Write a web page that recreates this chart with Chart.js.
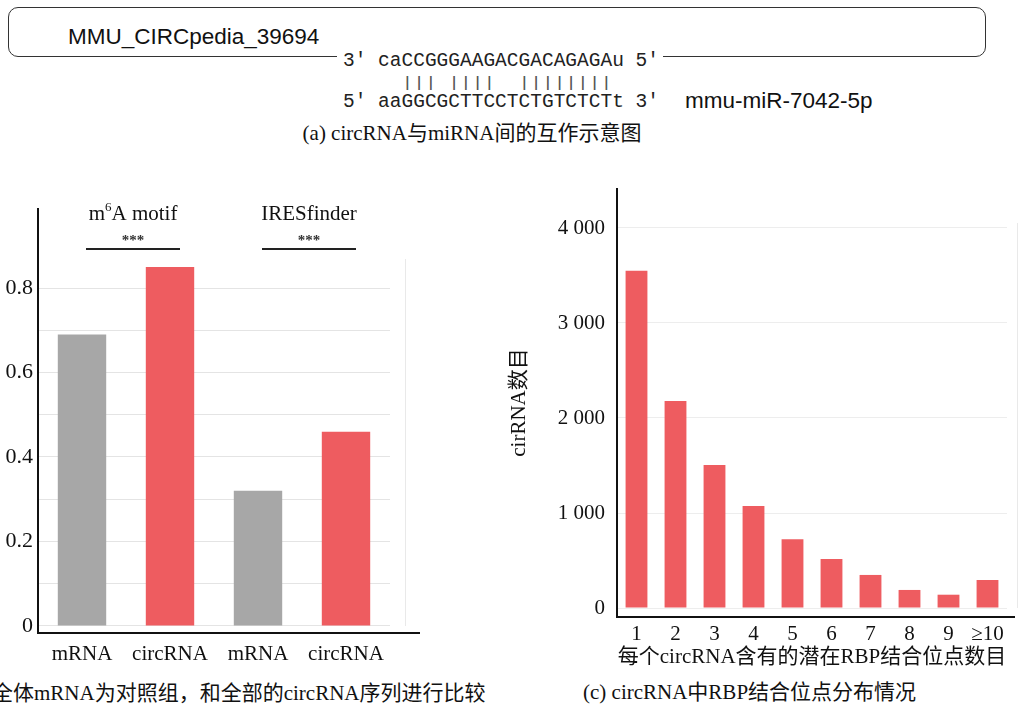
<!DOCTYPE html>
<html>
<head>
<meta charset="utf-8">
<script src="https://cdn.jsdelivr.net/npm/chart.js@4.4.1/dist/chart.umd.min.js"></script>
<style>
  html, body { margin: 0; padding: 0; background: #fff; }
  #page { position: relative; width: 1020px; height: 706px; overflow: hidden; background: #fff; }
  .abs { position: absolute; white-space: pre; }
  .serif { font-family: 'Liberation Serif', 'Noto Sans CJK SC', serif; color: #111; font-size: 21px; line-height: 26px; }
  .sans { font-family: 'Liberation Sans', Arial, sans-serif; color: #111; font-size: 22.5px; line-height: 26px; }
  .mono { font-family: 'Liberation Mono', 'Courier New', monospace; color: #222; font-size: 19.5px; line-height: 22px; }
  #circBox { position: absolute; left: 8px; top: 7px; width: 978px; height: 50px; box-sizing: border-box;
             border: 1.5px solid #333; border-radius: 10px; }
  #seqTop { background: #fff; padding: 0 4px 0 6px; }
  #pairs { color: #555; transform: scaleY(0.78); transform-origin: 50% 50%; }
  #wrapB { position: absolute; left: 0; top: 188px; width: 430px; height: 482px; }
  #wrapC { position: absolute; left: 500px; top: 163px; width: 520px; height: 507px; }
</style>
</head>
<body>
<div id="page">
  <div id="circBox"></div>
  <div class="abs sans" style="left:68px; top:24px;">MMU_CIRCpedia_39694</div>
  <div class="abs mono" id="seqTop" style="left:337px; top:50px;">3' caCCGGGAAGACGACAGAGAu 5'</div>
  <div class="abs mono" id="pairs" style="left:343px; top:72px;">     ||| ||||  ||||||||</div>
  <div class="abs mono" style="left:343px; top:91px;">5' aaGGCGCTTCCTCTGTCTCTt 3'</div>
  <div class="abs sans" style="left:685px; top:88px;">mmu-miR-7042-5p</div>
  <div class="abs serif" style="left:472px; top:120px; transform:translateX(-50%);">(a) circRNA与miRNA间的互作示意图</div>

  <div id="wrapB"><canvas id="chartB"></canvas></div>
  <div id="wrapC"><canvas id="chartC"></canvas></div>

  <div class="abs serif" style="left:-8px; top:680px;">全体mRNA为对照组，和全部的circRNA序列进行比较</div>
  <div class="abs serif" style="left:583px; top:679px;">(c) circRNA中RBP结合位点分布情况</div>
</div>

<script>
// ---- panel (b): fraction of sequences carrying each feature ----
const groupLabels = ['mRNA', 'circRNA', 'mRNA', 'circRNA'];
const featureFractions = [0.69, 0.85, 0.32, 0.46];
const featureNames = ['m6A motif', 'IRESfinder'];
const fractionGrid = [0, 0.1, 0.2, 0.3, 0.4, 0.5, 0.6, 0.7, 0.8];
const fractionTickLabels = [0, 0.2, 0.4, 0.6, 0.8];

// ---- panel (c): circRNAs by number of predicted RBP binding sites ----
const siteCountLabels = ['1', '2', '3', '4', '5', '6', '7', '8', '9', '≥10'];
const circRnaCounts = [3550, 2180, 1505, 1075, 725, 515, 348, 190, 140, 295];
const countTicks = [0, 1000, 2000, 3000, 4000];

const SERIF = "'Liberation Serif', 'Noto Sans CJK SC', serif";
const RED = '#EE5C60';
const GREY = '#A7A7A7';
const INK = '#111111';

Chart.defaults.font.family = SERIF;
Chart.defaults.color = INK;
Chart.defaults.devicePixelRatio = 1;

// Axis lines sit a little outside the data range, plus a faint panel edge on the right
const axisFrame = {
  id: 'axisFrame',
  afterDatasetsDraw(chart, args, opts) {
    const { ctx, chartArea: a, scales: { y } } = chart;
    const zero = y.getPixelForValue(0);
    ctx.save();
    ctx.strokeStyle = '#e9e9e9';
    ctx.lineWidth = 1;
    ctx.beginPath();
    ctx.moveTo(a.right + opts.edgeGap + 0.5, a.top + opts.edgeTop);
    ctx.lineTo(a.right + opts.edgeGap + 0.5, zero);
    ctx.stroke();
    ctx.strokeStyle = INK;
    ctx.lineWidth = 2;
    ctx.beginPath();
    ctx.moveTo(a.left, a.top);
    ctx.lineTo(a.left, a.bottom);
    ctx.lineTo(a.right + opts.overhang, a.bottom);
    ctx.stroke();
    ctx.restore();
  }
};

// Feature names and significance brackets above each mRNA / circRNA pair
const featureBrackets = {
  id: 'featureBrackets',
  afterDraw(chart) {
    const { ctx, chartArea: a, scales: { x } } = chart;
    ctx.save();
    featureNames.forEach((name, i) => {
      const x0 = x.getPixelForValue(2 * i) + 4;
      const x1 = x.getPixelForValue(2 * i + 1) + 10;
      const cx = (x0 + x1) / 2;
      ctx.fillStyle = INK;
      ctx.textBaseline = 'middle';
      const m = name.match(/^(m)(\d)(A.*)$/);
      const base = '21px ' + SERIF;
      const sup = '13px ' + SERIF;
      if (m) {
        ctx.font = base; const w1 = ctx.measureText(m[1]).width; const w3 = ctx.measureText(m[3]).width;
        ctx.font = sup; const w2 = ctx.measureText(m[2]).width;
        let left = cx - (w1 + w2 + w3) / 2;
        ctx.textAlign = 'left';
        ctx.font = base; ctx.fillText(m[1], left, a.top + 6);
        ctx.font = sup; ctx.fillText(m[2], left + w1, a.top + 0);
        ctx.font = base; ctx.fillText(m[3], left + w1 + w2, a.top + 6);
      } else {
        ctx.font = base; ctx.textAlign = 'center';
        ctx.fillText(name, cx, a.top + 6);
      }
      ctx.font = 'bold 15px ' + SERIF;
      ctx.textAlign = 'center';
      ctx.fillStyle = '#333';
      ctx.fillText('***', cx, a.top + 33);
      ctx.strokeStyle = '#222';
      ctx.lineWidth = 2;
      ctx.beginPath();
      ctx.moveTo(x0, a.top + 41);
      ctx.lineTo(x1, a.top + 41);
      ctx.stroke();
    });
    ctx.restore();
  }
};

new Chart(document.getElementById('chartB'), {
  type: 'bar',
  data: {
    labels: groupLabels,
    datasets: [{
      data: featureFractions,
      backgroundColor: groupLabels.map(g => g === 'mRNA' ? GREY : RED),
      borderWidth: 0,
      categoryPercentage: 1,
      barPercentage: 0.55
    }]
  },
  options: {
    responsive: true,
    maintainAspectRatio: false,
    animation: false,
    layout: { padding: { top: 20, right: 40, left: 0, bottom: 0 } },
    plugins: { legend: { display: false }, tooltip: { enabled: false }, axisFrame: { edgeGap: 15, edgeTop: 51, overhang: 30 } },
    scales: {
      x: {
        grid: { display: false },
        border: { display: false },
        ticks: { font: { size: 21 }, padding: 1, color: INK },
        afterFit: s => { s.height = 37; }
      },
      y: {
        min: -0.01657,
        max: 0.98935,
        afterBuildTicks: s => { s.ticks = fractionGrid.map(v => ({ value: v })); },
        grid: { color: '#e4e4e4', lineWidth: 1, drawTicks: false },
        border: { display: false },
        ticks: {
          font: { size: 22 },
          padding: 5,
          color: INK,
          callback: v => fractionTickLabels.some(t => Math.abs(t - v) < 1e-6) ? (v === 0 ? '0' : v.toFixed(1)) : ''
        },
        afterFit: s => { s.width = 38; }
      }
    }
  },
  plugins: [axisFrame, featureBrackets]
});

const spaced = v => String(v).replace(/\B(?=(\d{3})+(?!\d))/g, ' ');

new Chart(document.getElementById('chartC'), {
  type: 'bar',
  data: {
    labels: siteCountLabels,
    datasets: [{
      data: circRnaCounts,
      backgroundColor: RED,
      borderWidth: 0,
      categoryPercentage: 1,
      barPercentage: 0.56
    }]
  },
  options: {
    responsive: true,
    maintainAspectRatio: false,
    animation: false,
    layout: { padding: { top: 25, right: 13, left: 0, bottom: 0 } },
    plugins: { legend: { display: false }, tooltip: { enabled: false }, axisFrame: { edgeGap: 10, edgeTop: 35, overhang: 8 } },
    scales: {
      x: {
        grid: { display: false },
        border: { display: false },
        ticks: { font: { size: 21 }, padding: -3, color: INK },
        title: { display: true, text: '每个circRNA含有的潜在RBP结合位点数目', font: { size: 21 }, color: INK, padding: { top: 0, bottom: 0 } },
        afterFit: s => { s.height = 53; }
      },
      y: {
        min: -94.7,
        max: 4421,
        afterBuildTicks: s => { s.ticks = countTicks.map(v => ({ value: v })); },
        grid: { color: '#ededed', lineWidth: 1, drawTicks: false },
        border: { display: false },
        ticks: { font: { size: 21 }, padding: 12, color: INK, callback: v => spaced(v) },
        title: { display: true, text: 'cirRNA数目', font: { size: 21 }, color: INK, padding: { top: 7, bottom: 0 } },
        afterFit: s => { s.width = 117; }
      }
    }
  },
  plugins: [axisFrame]
});
</script>
</body>
</html>
